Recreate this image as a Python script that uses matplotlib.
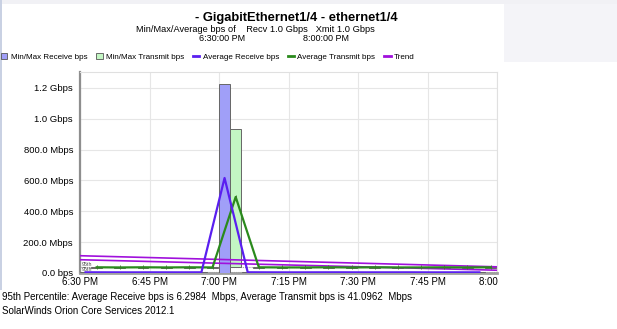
import matplotlib
matplotlib.use("Agg")
import matplotlib.pyplot as plt
from matplotlib.patches import Patch, Rectangle
from matplotlib.lines import Line2D
from matplotlib.transforms import Bbox, TransformedBbox

plt.rcParams['font.family'] = ['Liberation Sans', 'DejaVu Sans']

# ---- data ----
tick_minutes = [0, 15, 30, 45, 60, 75, 90]
tick_labels = ['6:30 PM', '6:45 PM', '7:00 PM', '7:15 PM', '7:30 PM', '7:45 PM', '8:00 PM']
y_ticks = [0, 200, 400, 600, 800, 1000, 1200]
y_labels = ['0.0 bps', '200.0 Mbps', '400.0 Mbps', '600.0 Mbps', '800.0 Mbps', '1.0 Gbps', '1.2 Gbps']

# sample times (minutes after 6:30 PM)
sample_minutes = [2.4, 7.4, 12.4, 17.4, 22.4, 27.4, 32.4, 37.4, 42.4,
                  47.4, 52.4, 57.4, 62.4, 67.4, 72.4, 77.4, 82.4, 87.4]
# values in Mbps
avg_recv = [4.5, 4.2, 4.0, 4.3, 4.1, 4.4, 616, 4.6, 4.2,
            4.0, 4.3, 4.5, 4.1, 4.2, 4.4, 4.0, 4.3, 4.2]
min_recv = [3.0, 3.1, 2.9, 3.0, 3.2, 3.0, 0.0, 3.1, 3.0,
            2.9, 3.0, 3.1, 3.0, 2.9, 3.0, 3.1, 3.0, 3.0]
max_recv = [6.0, 5.8, 5.6, 5.9, 5.7, 6.0, 1226, 6.1, 5.8,
            5.6, 5.9, 6.0, 5.7, 5.8, 6.0, 5.6, 5.9, 5.8]
avg_xmit = [37, 36, 37, 36, 37, 36, 493, 37, 36,
            36, 37, 36, 37, 36, 36, 37, 36, 37]
min_xmit = [35, 34, 35, 34, 35, 34, 37, 35, 34,
            34, 35, 34, 35, 34, 34, 35, 34, 35]
max_xmit = [40, 39, 40, 39, 40, 39, 932, 40, 39,
            39, 40, 39, 40, 39, 39, 40, 39, 40]

trend_minutes = [0, 90]
trend_recv = [86, 18]
trend_xmit = [112, 40]

pct95_recv = 6.2984
pct95_xmit = 41.0962

title = '- GigabitEthernet1/4 - ethernet1/4'
subtitle = 'Min/Max/Average bps of    Recv 1.0 Gbps   Xmit 1.0 Gbps'
start_label = '6:30:00 PM'
end_label = '8:00:00 PM'
footer1 = ('95th Percentile: Average Receive bps is 6.2984  Mbps, '
           'Average Transmit bps is 41.0962  Mbps')
footer2 = 'SolarWinds Orion Core Services 2012.1'

# ---- style ----
c_recv_bar = '#a09ff8'
c_xmit_bar = '#c3f6c3'
c_recv = '#5a1ff0'
c_xmit = '#2a8a1c'
c_trend = '#a010dc'
bar_w = 2.35
bar_off = 1.2

W, H = 617, 329
fig = plt.figure(figsize=(W / 100, H / 100), dpi=100)
fig.patch.set_facecolor('white')

# background decorations
fig.add_artist(Rectangle((504 / W, 1 - 62 / H), 113 / W, 62 / H,
                         transform=fig.transFigure, facecolor='#f4f4f8',
                         edgecolor='none', zorder=-5))
fig.add_artist(Rectangle((0, 1 - 4 / H), 1, 4 / H, transform=fig.transFigure,
                         facecolor='#f1f1f5', edgecolor='none', zorder=-5))
fig.add_artist(Rectangle((0, 1 - 290 / H), 2.2 / W, 290 / H,
                         transform=fig.transFigure, facecolor='#c9d1e3',
                         edgecolor='none', zorder=-5))

ax = fig.add_axes([80 / W, 1 - 273 / H, 417 / W, 201 / H])
ax.set_xlim(0, 90)
ax.set_ylim(0, 1303)

recv_x = [t - bar_off for t in sample_minutes]
xmit_x = [t + bar_off for t in sample_minutes]

ax.bar(recv_x, [hi - lo for lo, hi in zip(min_recv, max_recv)], bottom=min_recv,
       width=bar_w, color=c_recv_bar, edgecolor='#666666', linewidth=0.7, zorder=3)
ax.bar(xmit_x, [hi - lo for lo, hi in zip(min_xmit, max_xmit)], bottom=min_xmit,
       width=bar_w, color=c_xmit_bar, edgecolor='#666666', linewidth=0.7, zorder=3)

ax.axhline(pct95_recv, color='#9a9a9a', lw=0.8, ls=(0, (1, 1)), zorder=2)
ax.axhline(pct95_xmit, color='#9a9a9a', lw=0.8, ls=(0, (1, 1)), zorder=2)
ax.text(0.4, pct95_xmit + 14, '95th', fontsize=3.8, color='#444444',
        va='center', ha='left', zorder=6)
ax.text(0.4, pct95_recv + 14, '95th', fontsize=3.8, color='#444444',
        va='center', ha='left', zorder=6)

ax.plot(trend_minutes, trend_xmit, color=c_trend, lw=1.2, zorder=4)
ax.plot(trend_minutes, trend_recv, color=c_trend, lw=1.2, zorder=4)
ax.plot(xmit_x, avg_xmit, color=c_xmit, lw=1.6, marker='|', ms=2.5,
        mew=0.6, mec='#3a7a2a', zorder=5)
ax.plot(recv_x, avg_recv, color=c_recv, lw=1.6, zorder=5)

ax.set_xticks(tick_minutes)
ax.set_xticklabels(tick_labels, fontsize=7)
ax.set_yticks(y_ticks)
ax.set_yticklabels(y_labels, fontsize=6.8)
ax.tick_params(axis='both', length=0)
ax.tick_params(axis='y', pad=5)
ax.tick_params(axis='x', pad=2.8)
ax.grid(True, color='#e6e6e6', lw=0.8, zorder=0)
ax.set_axisbelow(True)
for s in ('top', 'right'):
    ax.spines[s].set_color('#e0e0e0')
    ax.spines[s].set_linewidth(0.8)
ax.spines['left'].set_color('#8e8e8e')
ax.spines['left'].set_linewidth(1.6)
ax.spines['bottom'].set_color('#a0a0a0')
ax.spines['bottom'].set_linewidth(2.0)

# the last x tick label is cut off at the edge of the chart image
clip = TransformedBbox(Bbox([[0, 0], [500 / W, 1]]), fig.transFigure)
last = ax.get_xticklabels()[-1]
last.set_clip_box(clip)
last.set_clip_on(True)

# header
fig.text(296.5 / W, 1 - 17.7 / H, title, fontsize=9.3, fontweight='bold',
         ha='center', va='center')
fig.text(255 / W, 1 - 29 / H, subtitle, fontsize=6.7, ha='center', va='center')
fig.text(222.5 / W, 1 - 38.5 / H, start_label, fontsize=6.5, ha='center', va='center')
fig.text(326 / W, 1 - 38.5 / H, end_label, fontsize=6.5, ha='center', va='center')

handles = [
    Patch(facecolor=c_recv_bar, edgecolor='#555555', linewidth=0.6),
    Patch(facecolor=c_xmit_bar, edgecolor='#555555', linewidth=0.6),
    Line2D([], [], color=c_recv, lw=2),
    Line2D([], [], color=c_xmit, lw=2),
    Line2D([], [], color=c_trend, lw=2),
]
labels = ['Min/Max Receive bps', 'Min/Max Transmit bps', 'Average Receive bps',
          'Average Transmit bps', 'Trend']
fig.legend(handles, labels, loc='center left', bbox_to_anchor=(1 / W, 1 - 57 / H),
           ncol=5, frameon=False, fontsize=5.75, handlelength=0.8,
           handleheight=0.8, handletextpad=0.4, columnspacing=1.12,
           borderpad=0, borderaxespad=0)

# footer
fig.text(2 / W, 1 - 297 / H, footer1, fontsize=7.0, ha='left', va='center')
fig.text(2 / W, 1 - 310.5 / H, footer2, fontsize=7.0, ha='left', va='center')

fig.savefig('out.png', dpi=100)
